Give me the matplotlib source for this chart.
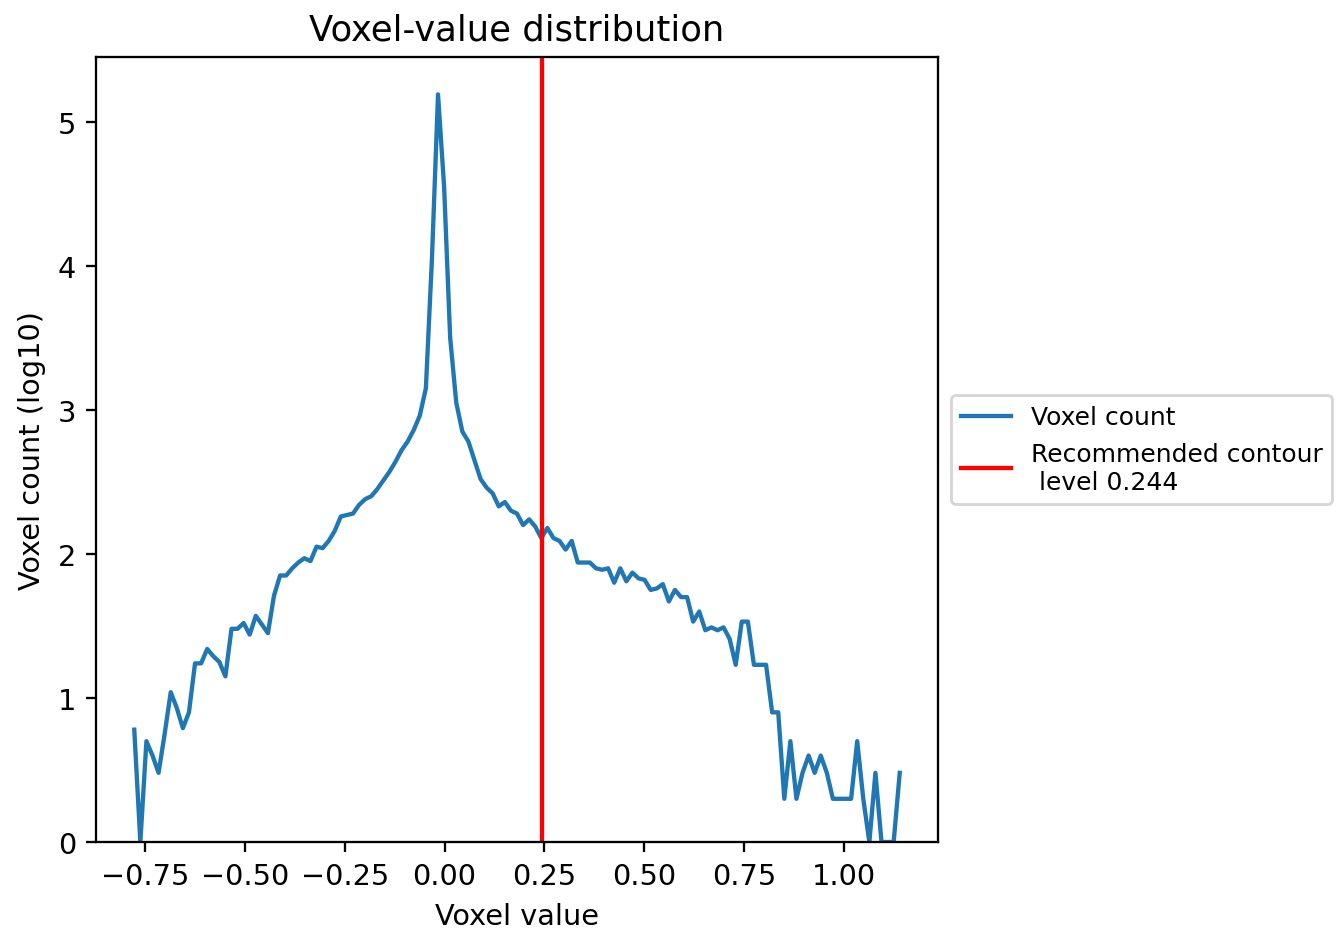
import matplotlib
matplotlib.use("Agg")
import matplotlib.pyplot as plt
import numpy as np

# histogram bins (centres)
bin_start = -0.7777
bin_width = 0.015226

# log10 voxel counts per bin
log_counts = [
    0.78, 0.00, 0.70, 0.60, 0.48, 0.75, 1.04, 0.93, 0.79, 0.90,
    1.24, 1.24, 1.34, 1.29, 1.25, 1.15, 1.48, 1.48, 1.52, 1.44,
    1.57, 1.51, 1.45, 1.71, 1.85, 1.85, 1.90, 1.94, 1.97, 1.95,
    2.05, 2.04, 2.09, 2.16, 2.26, 2.27, 2.28, 2.34, 2.38, 2.40,
    2.45, 2.51, 2.57, 2.64, 2.72, 2.78, 2.86, 2.96, 3.15, 4.05,
    5.19, 4.55, 3.50, 3.05, 2.85, 2.78, 2.65, 2.52, 2.46, 2.42,
    2.33, 2.36, 2.30, 2.28, 2.20, 2.24, 2.19, 2.11, 2.18, 2.11,
    2.09, 2.03, 2.09, 1.94, 1.94, 1.94, 1.90, 1.89, 1.90, 1.80,
    1.90, 1.81, 1.87, 1.83, 1.82, 1.75, 1.76, 1.79, 1.67, 1.75,
    1.70, 1.70, 1.53, 1.60, 1.47, 1.49, 1.47, 1.49, 1.41, 1.23,
    1.53, 1.53, 1.23, 1.23, 1.23, 0.90, 0.90, 0.30, 0.70, 0.30,
    0.48, 0.60, 0.48, 0.60, 0.48, 0.30, 0.30, 0.30, 0.30, 0.70,
    0.30, 0.00, 0.48, 0.00, 0.00, 0.00, 0.48,
]
contour_level = 0.244

voxel_values = bin_start + bin_width * np.arange(len(log_counts))

dpi = 207
fig = plt.figure(figsize=(1338 / dpi, 932 / dpi), dpi=dpi)
ax = fig.add_axes([96 / 1338, 89 / 932, 842 / 1338, 785 / 932])

ax.plot(voxel_values, log_counts, label="Voxel count")
ax.axvline(contour_level, color="red",
           label="Recommended contour\n level %.3f" % contour_level)
ax.set_ylim(bottom=0)

ax.set_title("Voxel-value distribution", fontsize=12.3)
ax.set_xlabel("Voxel value")
ax.set_ylabel("Voxel count (log10)")
ax.legend(loc="center left", bbox_to_anchor=(1, 0.5), fontsize=8.7)

fig.savefig("out.png", dpi=dpi)
